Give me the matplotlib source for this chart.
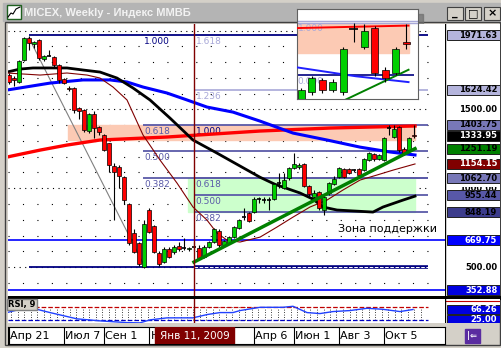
import numpy as np
import matplotlib.pyplot as plt
from matplotlib.patches import Rectangle

W, H = 502, 348

# weekly candles, index 0 = week of Apr 21 2008
opens = [1718, 1700, 1674, 1813, 1953, 1915, 1940, 1820, 1845, 1832, 1782, 1693, 1636, 1636, 1509, 1496,
         1363, 1471, 1388, 1337, 1287, 1141, 1134, 1071, 900, 716, 652, 500, 862, 760, 589, 532,
         614, 595, 633, 620, 612, 627, 620, 563, 627, 659, 728, 640, 652, 690, 747, 817,
         843, 849, 928, 931, 921, 931, 1030, 1001, 1065, 1128, 1135, 1153, 1014, 944, 976, 862,
         969, 1027, 1071, 1122, 1122, 1115, 1122, 1115, 1179, 1217, 1185, 1179, 1382, 1325, 1388, 1249,
         1242, 1340]
highs = [1730, 1712, 1813, 1960, 1965, 1935, 1945, 1845, 1880, 1840, 1790, 1700, 1650, 1640, 1515, 1505,
         1480, 1490, 1395, 1345, 1290, 1160, 1150, 1080, 905, 740, 660, 798, 875, 770, 600, 630,
         625, 640, 660, 684, 625, 660, 640, 640, 665, 750, 740, 672, 700, 760, 805, 874,
         850, 944, 944, 944, 944, 1035, 1096, 1096, 1135, 1223, 1160, 1160, 1020, 990, 985, 950,
         1040, 1080, 1135, 1130, 1130, 1125, 1130, 1192, 1230, 1225, 1220, 1325, 1403, 1400, 1395, 1260,
         1325, 1400]
lows = [1660, 1650, 1665, 1805, 1880, 1890, 1815, 1810, 1838, 1770, 1670, 1660, 1615, 1480, 1440, 1360,
        1350, 1320, 1340, 1235, 1100, 798, 1000, 900, 640, 590, 510, 495, 715, 590, 510, 525,
        555, 585, 605, 608, 605, 600, 550, 555, 620, 650, 630, 632, 645, 685, 740, 800,
        785, 842, 906, 906, 862, 925, 1000, 995, 1055, 1120, 1125, 1008, 950, 930, 860, 830,
        960, 1020, 1065, 1065, 1090, 1100, 1075, 1108, 1170, 1175, 1178, 1170, 1340, 1318, 1230, 1210,
        1235, 1320]
closes = [1674, 1687, 1807, 1953, 1921, 1927, 1826, 1838, 1842, 1782, 1687, 1668, 1630, 1496, 1490, 1369,
          1471, 1382, 1356, 1242, 1147, 1103, 1077, 925, 652, 595, 519, 773, 722, 595, 519, 614,
          563, 627, 614, 622, 618, 630, 557, 627, 659, 741, 640, 665, 690, 754, 798, 820,
          792, 931, 931, 928, 925, 1027, 1033, 1052, 1128, 1153, 1150, 1014, 963, 969, 874, 944,
          1033, 1058, 1128, 1071, 1096, 1117, 1084, 1185, 1223, 1185, 1211, 1318, 1384, 1376, 1242, 1223,
          1318, 1333.95]

# indicator lines (week index, value)
black_x = [-0.4, 2.2, 4.8, 8.2, 11.6, 14.8, 18.2, 21.6, 24.8, 28.2, 32.2, 36.8, 41.6, 44.8, 50.2, 53.2,
           58.2, 60.8, 62.8, 65.6, 72.8, 74.8, 78.8, 81.2]
black_y = [1737, 1756, 1763, 1763, 1763, 1750, 1737, 1699, 1636, 1560, 1445, 1306, 1223, 1166, 1070, 1025,
           970, 931, 881, 862, 849, 881, 925, 950]
blue_x = [-0.4, 8.2, 14.8, 20.2, 23.6, 26.8, 31.6, 35.6, 39.6, 44.8, 50.2, 56.8, 63.6, 70.2, 76.2, 81.2]
blue_y = [1623, 1667, 1687, 1687, 1674, 1642, 1604, 1560, 1515, 1483, 1426, 1350, 1306, 1261, 1230, 1211]
red_x = [-0.4, 6.2, 11.6, 18.2, 31.6, 50.2, 64.2, 81.2]
red_y = [1198, 1242, 1274, 1306, 1325, 1363, 1382, 1395]
dred_x = [-0.4, 6.2, 11.6, 15.6, 18.2, 20.8, 23.6, 26.8, 30.2, 33.6, 36.8, 39.6, 41.6, 43.6, 46.2, 50.2,
          53.6, 56.8, 60.2, 63.6, 66.8, 70.2, 73.6, 76.8, 81.2]
dred_y = [1731, 1718, 1731, 1718, 1699, 1642, 1560, 1338, 1179, 1033, 881, 798, 716, 671, 659, 690,
          754, 817, 881, 925, 989, 1052, 1084, 1115, 1154.15]
trend_x = [37, 81.2]
trend_y = [532, 1251.19]
diag_x = [4, 26.8]
diag_y = [1953, 525]

rsi_x = [-0.4, 2.2, 5.6, 8.2, 13.6, 18.2, 23.6, 26.2, 28.2, 31.6, 36.8, 39.6, 42.2, 44.8, 46.2, 50.2,
         54.8, 56.8, 59.6, 62.2, 64.8, 68.2, 71.6, 74.8, 78.2, 80.8]
rsi_y = [54, 67, 67, 54, 29, 21, 14, 13, 25, 33, 33, 46, 54, 54, 62, 75,
         75, 79, 54, 50, 58, 62, 71, 67, 58, 66.26]

fib1_levels = [1971.63, 1403.75, 1233.8, 1062.70]
fib1_labels = ['1.000', '0.618', '0.500', '0.382']
fib2_levels = [1971.63, 1624.42, 1403.75, 1062.70, 955.44, 848.19]
fib2_labels = ['1.618', '1.236', '1.000', '0.618', '0.500', '0.382']
blue_levels = [669.75, 352.88]

axis_vals = [1500.00, 500.00, 1971.63, 1624.42, 1403.75, 1333.95, 1251.19, 1154.15, 1062.70,
             955.44, 848.19, 669.75, 352.88]
axis_face = ['white', 'white', '#b4b4dc', '#b4b4dc', '#7878b8', 'black', '#008000', '#800000',
             '#7878b8', '#5858a8', '#3c3c8c', '#0000ff', '#0000e0']
axis_text = ['black', 'black', 'black', 'black', 'black', 'white', 'black', 'white',
             'black', 'black', 'black', 'white', 'white']
hidden_val = 1000.00

date_pos = [0, 11, 19, 28, 49, 57, 66, 75]
date_labels = ['Апр 21', 'Июл 7', 'Сен 1', 'Н', 'Апр 6', 'Июн 1', 'Авг 3', 'Окт 5']
cursor = 37

XL = (-0.2, 87.2)
YL = (328.7, 2041.8)
GREEN, RED = '#00d000', '#ff0000'
SLATE, LAV, NAVY = '#5a5aa8', '#a8a8d8', '#000080'


def box(x0, y0, x1, y1):
    return [x0 / W, 1 - y1 / H, (x1 - x0) / W, (y1 - y0) / H]


def candles(a, idx, w):
    for i in idx:
        o, h, l, c = opens[i], highs[i], lows[i], closes[i]
        a.vlines(i, l, h, color='black', lw=0.8, zorder=4)
        if abs(c - o) < 6:
            a.hlines(c, i - w / 2 - 0.1, i + w / 2 + 0.1, color='black', lw=1.2, zorder=5)
        else:
            a.bar(i, abs(c - o), w, bottom=min(o, c), color=GREEN if c > o else RED,
                  edgecolor='black', lw=0.5, zorder=5)


fig = plt.figure(figsize=(W / 100, H / 100), dpi=100, facecolor='#d4d0c8')

# window chrome
bg = fig.add_axes([0, 0, 1, 1])
bg.set_xlim(0, W)
bg.set_ylim(H, 0)
bg.axis('off')
bg.add_patch(Rectangle((3, 3), 497, 18, color='#b4b4b4'))
bg.text(24, 12.5, 'MICEX, Weekly - Индекс ММВБ', fontsize=8, fontweight='bold',
        family='Liberation Sans', color='#f2f2f2', va='center')
bg.add_patch(Rectangle((7, 5), 14, 14, facecolor='white', edgecolor='#206020', lw=1))
bg.plot([8, 11, 13, 16, 20], [17, 13, 14, 9, 7], color='black', lw=0.8)
for bx, g in [(447, '_'), (465, '□'), (484, '×')]:
    bg.add_patch(Rectangle((bx, 7), 16, 13, facecolor='#d4d0c8', edgecolor='#404040', lw=0.8))
    bg.text(bx + 8, 13.5, g, ha='center', va='center', fontsize=8, fontweight='bold')
bg.add_patch(Rectangle((5, 22), 495, 323, facecolor='none', edgecolor='#404040', lw=1))
bg.add_patch(Rectangle((8, 296), 492, 3, color='black'))
bg.add_patch(Rectangle((465, 329), 15, 14, color='#5a2ca0'))
bg.text(472.5, 336, '|⇐', color='white', fontsize=6, ha='center', va='center', fontweight='bold')
bg.add_patch(Rectangle((302, 14), 121, 91, color='#6e6e6e', alpha=0.7))

# main price panel
ax = fig.add_axes(box(8, 24, 445, 296))
ax.set_xlim(*XL)
ax.set_ylim(YL[0] - 12, YL[1])
ax.set_facecolor('white')
for s in ax.spines.values():
    s.set_visible(False)
ax.set_xticks([])
ax.yaxis.tick_right()
ax.set_yticks(np.arange(400, 2001, 100))
ax.tick_params(axis='y', length=3, width=0.8, labelright=False)

for lv in np.arange(400, 2001, 100):
    ls = (0, (1, 4)) if lv % 500 == 0 else (0, (1, 12))
    ax.hlines(lv, XL[0], 83.8, color='black', lw=0.8, linestyles=[ls], zorder=1)

ax.add_patch(Rectangle((11.8, 1306), 69.4, 1403.75 - 1306, color='#fccab4', zorder=1))
ax.add_patch(Rectangle((35.8, fib2_levels[-1]), 45.4, fib2_levels[3] - fib2_levels[-1],
                       color='#ccffcc', zorder=1))

ax.hlines(fib1_levels[0], 4, 83.8, color=NAVY, lw=1.3, zorder=2)
ax.hlines(500, 4, 83.8, color=NAVY, lw=1.3, zorder=2)
ax.hlines(fib1_levels[1:], 26.8, 83.8, color=SLATE, lw=1.3, zorder=2)
ax.hlines(fib2_levels[1], 37, 83.8, color=LAV, lw=1.2, zorder=2)
ax.hlines(fib2_levels[3:], 37, 83.8, color=SLATE, lw=1.3, zorder=2)
ax.hlines(500, 37, 83.8, color=NAVY, lw=2.6, zorder=2)
ax.hlines(500, 37, 83.8, color='white', lw=0.7, linestyles='--', zorder=2)
ax.hlines(blue_levels, *XL, color='#0000ff', lw=1.2, zorder=2)

for lb, lv, c in zip(fib1_labels, fib1_levels, [NAVY, SLATE, SLATE, SLATE]):
    ax.annotate(lb, (27, lv), xytext=(0, -1.5), textcoords='offset points', va='top',
                fontsize=6.5, color=c, zorder=3)
for lb, lv, c in zip(fib2_labels, fib2_levels, [LAV, LAV, NAVY, SLATE, SLATE, SLATE]):
    ax.annotate(lb, (37.3, lv), xytext=(0, -1.5), textcoords='offset points', va='top',
                fontsize=6.5, color=c, zorder=3)

ax.plot(diag_x, diag_y, color='#808080', lw=0.8, zorder=3)
ax.plot(red_x, red_y, color='#ff0000', lw=2.4, zorder=3)
ax.plot(blue_x, blue_y, color='#0000ff', lw=2.2, zorder=3)
ax.plot(black_x, black_y, color='black', lw=2, zorder=3)
ax.plot(dred_x, dred_y, color='#800000', lw=0.8, zorder=3)
ax.plot(trend_x, trend_y, color='#008000', lw=2.5, zorder=6)
ax.axvline(cursor, color='#800000', lw=1, zorder=7)
candles(ax, range(len(closes)), 0.7)
ax.text(65.8, 741, 'Зона поддержки', fontsize=8, va='center', ha='left')

# right price scale
rp = fig.add_axes(box(445, 24, 500, 296))
rp.set_xlim(0, 1)
rp.set_ylim(YL[0] - 12, YL[1])
rp.axis('off')
rp.add_patch(Rectangle((0, YL[0] - 12), 1, YL[1] - YL[0] + 12, color='white'))
rp.axvline(0, color='black', lw=1)
strip = Rectangle((0, hidden_val - 10), 1, 18, transform=rp.transData)
t = rp.text(0.95, hidden_val, f'{hidden_val:.2f}', ha='right', va='center', fontsize=6,
            fontweight='bold', color='black', clip_on=True)
t.set_clip_path(strip)
for v, fc, tc in zip(axis_vals, axis_face, axis_text):
    if fc != 'white':
        rp.add_patch(Rectangle((0.04, v - 32), 0.96, 64, facecolor=fc, edgecolor='#202020', lw=0.7))
    rp.text(0.95, v, f'{v:.2f}', ha='right', va='center', fontsize=6, fontweight='bold', color=tc)

# RSI panel
rs = fig.add_axes(box(8, 299, 445, 323))
rs.set_xlim(*XL)
rs.set_ylim(12.5, 108)
rs.set_xticks([])
rs.set_yticks([])
for s in rs.spines.values():
    s.set_visible(False)
rs.vlines(np.arange(0.5, 83, 1.3), 25, 75, color='black', lw=0.6, linestyles=[(0, (1, 2))])
rs.hlines(75, -0.2, 83.8, color='#c00000', lw=0.9, linestyles='--')
rs.hlines(25, -0.2, 83.8, color='#0000c0', lw=0.9, linestyles='--')
rs.plot(rsi_x, rsi_y, color='#2040ff', lw=1)
rs.axvline(cursor, color='#800000', lw=1)
rs.text(-0.1, 104, 'RSI, 9', fontsize=6, fontweight='bold', va='top', ha='left',
        bbox=dict(facecolor='#d4d0c8', edgecolor='#808080', boxstyle='square,pad=0.15'))

rr = fig.add_axes(box(445, 299, 500, 323))
rr.set_xlim(0, 1)
rr.set_ylim(12.5, 108)
rr.axis('off')
rr.add_patch(Rectangle((0, 12.5), 1, 95.5, color='white'))
rr.axhline(100, color='#c00000', lw=0.8)
rr.axvline(0, color='black', lw=1)
for v in [rsi_y[-1], 25.0]:
    rr.add_patch(Rectangle((0.04, v - 19), 0.96, 38, facecolor='#0000e0', edgecolor='#202020', lw=0.7))
    rr.text(0.95, v, f'{v:.2f}', ha='right', va='center', fontsize=6, fontweight='bold', color='white')

# date axis
da = fig.add_axes(box(8, 327, 445, 344))
da.set_xlim(*XL)
da.set_ylim(0, 1)
da.set_xticks([])
da.set_yticks([])
da.set_facecolor('white')
for p, lb in zip(date_pos, date_labels):
    da.axvline(p, color='black', lw=0.8)
    da.text(p + 0.3, 0.45, lb, fontsize=8, va='center', ha='left')
da.add_patch(Rectangle((29.2, 0), 15.8, 1, color='#800000', zorder=5))
da.text(37.2, 0.45, 'Янв 11, 2009', color='white', fontsize=7.5, va='center', ha='center', zorder=6)

# magnified popup
ins = fig.add_axes(box(297, 9, 418, 99))
ins.set_xlim(70.6, 82.1)
ins.set_ylim(1156, 1449)
ins.set_xticks([])
ins.set_yticks([])
for s in ins.spines.values():
    s.set_color('#606060')
    s.set_linewidth(0.8)
ins.add_patch(Rectangle((70.6, 1306), 10.6, 1403.75 - 1306, color='#fccab4', zorder=1))
ins.hlines([1403.75, 1411], 70.6, 82.1, color=LAV, lw=1, zorder=2)
ins.hlines(fib1_levels[2], 70.6, 81.7, color=NAVY, lw=1.2, zorder=2)
ins.text(70.65, 1400, '1.000', fontsize=6.5, color=LAV, va='top', zorder=3)
ins.text(70.65, 1228, '0.000', fontsize=6.5, color=LAV, va='top', zorder=3)
ins.plot(red_x, red_y, color='#ff0000', lw=1.4, zorder=3)
ins.plot(blue_x, blue_y, color='#2020ff', lw=1.4, zorder=3)
ins.plot(trend_x, trend_y, color='#008000', lw=1.4, zorder=3)
candles(ins, range(71, len(closes)), 0.65)

fig.savefig('out.png', dpi=100, facecolor=fig.get_facecolor())
